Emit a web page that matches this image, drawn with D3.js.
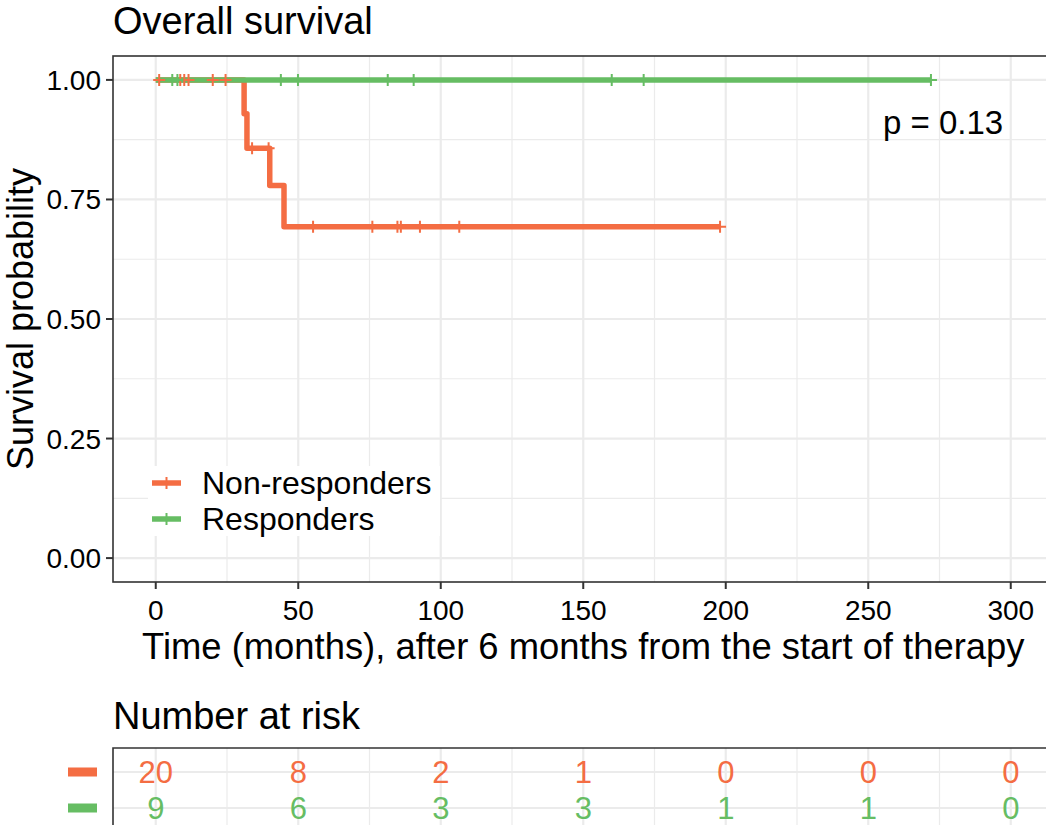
<!DOCTYPE html>
<html>
<head>
<meta charset="utf-8">
<script src="https://cdn.jsdelivr.net/npm/d3@7"></script>
<style>
  body { margin: 0; background: #fff; }
  svg { font-family: "Liberation Sans", Arial, sans-serif; }
</style>
</head>
<body>
<div id="chart-area"></div>
<script>
// strata and colours
var strata = ["Non-responders", "Responders"];
var colors = ["#F46D43", "#66BD63"];

// Kaplan-Meier steps
var nrTimes = [0, 31, 32, 40, 45, 198];
var nrSurv = [1, 0.929, 0.857, 0.779, 0.693, 0.693];
var nrCensor = [1.2, 8.6, 10, 11.5, 20, 24.5, 33.8, 39.6, 55.2, 76, 84.8, 86, 92.7, 106.5, 198];

var rTimes = [0, 272];
var rSurv = [1, 1];
var rCensor = [5.8, 7.6, 43.9, 49.9, 81.4, 90.5, 160, 171.2, 272];

// axes
var xTicks = [0, 50, 100, 150, 200, 250, 300];
var yTicks = [0, 0.25, 0.5, 0.75, 1];
var yTickLabels = ["0.00", "0.25", "0.50", "0.75", "1.00"];

// number at risk
var riskTimes = [0, 50, 100, 150, 200, 250, 300];
var riskNonResp = [20, 8, 2, 1, 0, 0, 0];
var riskResp = [9, 6, 3, 3, 1, 1, 0];

var pValueText = "p = 0.13";

var W = 1046, H = 825;
var svg = d3.select("#chart-area").append("svg")
    .attr("width", W)
    .attr("height", H);

var panel = { left: 113, top: 56, bottom: 582 };

var x = d3.scaleLinear().domain([-15, 315]).range([panel.left, panel.left + 330 * 2.85]);
var y = d3.scaleLinear().domain([-0.05, 1.05]).range([panel.bottom, panel.top]);
var panelRight = x(315);

// title
svg.append("text")
    .attr("x", 113).attr("y", 34)
    .attr("font-size", 38)
    .text("Overall survival");

var g = svg.append("g");

// clip for panel
svg.append("defs").append("clipPath").attr("id", "panelClip")
    .append("rect")
    .attr("x", panel.left).attr("y", panel.top)
    .attr("width", panelRight - panel.left).attr("height", panel.bottom - panel.top);

// grid
var minorX = d3.range(-25, 340, 50);
var minorY = [0.125, 0.375, 0.625, 0.875];
var grid = g.append("g").attr("clip-path", "url(#panelClip)");
grid.selectAll("line.minx").data(minorX).enter().append("line")
    .attr("x1", d => x(d)).attr("x2", d => x(d))
    .attr("y1", panel.top).attr("y2", panel.bottom)
    .attr("stroke", "#EBEBEB").attr("stroke-width", 1.2);
grid.selectAll("line.miny").data(minorY).enter().append("line")
    .attr("y1", d => y(d)).attr("y2", d => y(d))
    .attr("x1", panel.left).attr("x2", panelRight)
    .attr("stroke", "#EBEBEB").attr("stroke-width", 1.2);
grid.selectAll("line.majx").data(xTicks).enter().append("line")
    .attr("x1", d => x(d)).attr("x2", d => x(d))
    .attr("y1", panel.top).attr("y2", panel.bottom)
    .attr("stroke", "#EBEBEB").attr("stroke-width", 2.2);
grid.selectAll("line.majy").data(yTicks).enter().append("line")
    .attr("y1", d => y(d)).attr("y2", d => y(d))
    .attr("x1", panel.left).attr("x2", panelRight)
    .attr("stroke", "#EBEBEB").attr("stroke-width", 2.2);

// curves
var curves = [
    { times: nrTimes, surv: nrSurv, censor: nrCensor, color: colors[0] },
    { times: rTimes, surv: rSurv, censor: rCensor, color: colors[1] }
];

var line = d3.line()
    .x(d => x(d[0]))
    .y(d => y(d[1]))
    .curve(d3.curveStepAfter);

function survAt(c, t) {
    var s = c.surv[0];
    for (var i = 0; i < c.times.length; i++) {
        if (c.times[i] <= t) s = c.surv[i];
    }
    return s;
}

var plot = g.append("g").attr("clip-path", "url(#panelClip)");
curves.forEach(function (c) {
    plot.append("path")
        .attr("d", line(c.times.map((t, i) => [t, c.surv[i]])))
        .attr("fill", "none")
        .attr("stroke", c.color)
        .attr("stroke-width", 5.5)
        .attr("stroke-linejoin", "round");
});

var ms = 6;
curves.forEach(function (c) {
    var marks = plot.selectAll(null).data(c.censor).enter().append("g")
        .attr("transform", d => "translate(" + x(d) + "," + y(survAt(c, d)) + ")");
    marks.append("line").attr("x1", -ms).attr("x2", ms)
        .attr("stroke", c.color).attr("stroke-width", 2);
    marks.append("line").attr("y1", -ms).attr("y2", ms)
        .attr("stroke", c.color).attr("stroke-width", 2);
});

// panel border
g.append("rect")
    .attr("x", panel.left).attr("y", panel.top)
    .attr("width", panelRight - panel.left).attr("height", panel.bottom - panel.top)
    .attr("fill", "none").attr("stroke", "#333333").attr("stroke-width", 1.6);

// axes
var yAxis = g.selectAll("g.ytick").data(yTicks).enter().append("g");
yAxis.append("line")
    .attr("x1", panel.left - 7).attr("x2", panel.left)
    .attr("y1", d => y(d)).attr("y2", d => y(d))
    .attr("stroke", "#333333").attr("stroke-width", 2);
yAxis.append("text")
    .attr("x", 101).attr("y", d => y(d) + 10)
    .attr("text-anchor", "end")
    .attr("font-size", 28)
    .text((d, i) => yTickLabels[i]);

var xAxis = g.selectAll("g.xtick").data(xTicks).enter().append("g");
xAxis.append("line")
    .attr("x1", d => x(d)).attr("x2", d => x(d))
    .attr("y1", panel.bottom).attr("y2", panel.bottom + 7)
    .attr("stroke", "#333333").attr("stroke-width", 2);
xAxis.append("text")
    .attr("x", d => x(d)).attr("y", 620)
    .attr("text-anchor", "middle")
    .attr("font-size", 28)
    .text(d => d);

// axis titles
svg.append("text")
    .attr("x", x(150)).attr("y", 659)
    .attr("text-anchor", "middle")
    .attr("font-size", 36.4)
    .text("Time (months), after 6 months from the start of therapy");

svg.append("text")
    .attr("transform", "translate(33," + ((panel.top + panel.bottom) / 2) + ") rotate(-90)")
    .attr("text-anchor", "middle")
    .attr("font-size", 36)
    .text("Survival probability");

// p-value
svg.append("text")
    .attr("x", 883).attr("y", 134)
    .attr("font-size", 33)
    .text(pValueText);

// legend
var legend = svg.append("g");
legend.append("rect")
    .attr("x", 148).attr("y", 466)
    .attr("width", 292).attr("height", 70)
    .attr("fill", "#fff");
strata.forEach(function (s, i) {
    var ly = 483 + i * 36;
    legend.append("line")
        .attr("x1", 152).attr("x2", 181).attr("y1", ly).attr("y2", ly)
        .attr("stroke", colors[i]).attr("stroke-width", 5.5);
    legend.append("line")
        .attr("x1", 166.5).attr("x2", 166.5).attr("y1", ly - ms).attr("y2", ly + ms)
        .attr("stroke", colors[i]).attr("stroke-width", 2);
    legend.append("text")
        .attr("x", 202).attr("y", ly + 11)
        .attr("font-size", 32)
        .text(s);
});

// risk table
svg.append("text")
    .attr("x", 113).attr("y", 729)
    .attr("font-size", 38)
    .text("Number at risk");

var tTop = 748;
var rowY = [772, 808];
var table = svg.append("g");
table.selectAll("line.tminx").data(minorX.filter(d => x(d) > panel.left)).enter().append("line")
    .attr("x1", d => x(d)).attr("x2", d => x(d))
    .attr("y1", tTop).attr("y2", H)
    .attr("stroke", "#EBEBEB").attr("stroke-width", 1.2);
table.selectAll("line.tmajx").data(xTicks).enter().append("line")
    .attr("x1", d => x(d)).attr("x2", d => x(d))
    .attr("y1", tTop).attr("y2", H)
    .attr("stroke", "#EBEBEB").attr("stroke-width", 2.2);
table.selectAll("line.trow").data(rowY).enter().append("line")
    .attr("x1", panel.left).attr("x2", W)
    .attr("y1", d => d).attr("y2", d => d)
    .attr("stroke", "#EBEBEB").attr("stroke-width", 2.2);
table.append("path")
    .attr("d", "M" + panel.left + "," + (H + 2) + "V" + tTop + "H" + panelRight)
    .attr("fill", "none").attr("stroke", "#333333").attr("stroke-width", 1.6);

[riskNonResp, riskResp].forEach(function (vals, i) {
    table.selectAll(null).data(vals).enter().append("text")
        .attr("x", (d, j) => x(riskTimes[j]))
        .attr("y", rowY[i] + 11)
        .attr("text-anchor", "middle")
        .attr("font-size", 31)
        .attr("fill", colors[i])
        .text(d => d);
    table.append("rect")
        .attr("x", 68).attr("y", rowY[i] - 4.5)
        .attr("width", 29).attr("height", 9)
        .attr("fill", colors[i]);
});
</script>
</body>
</html>
